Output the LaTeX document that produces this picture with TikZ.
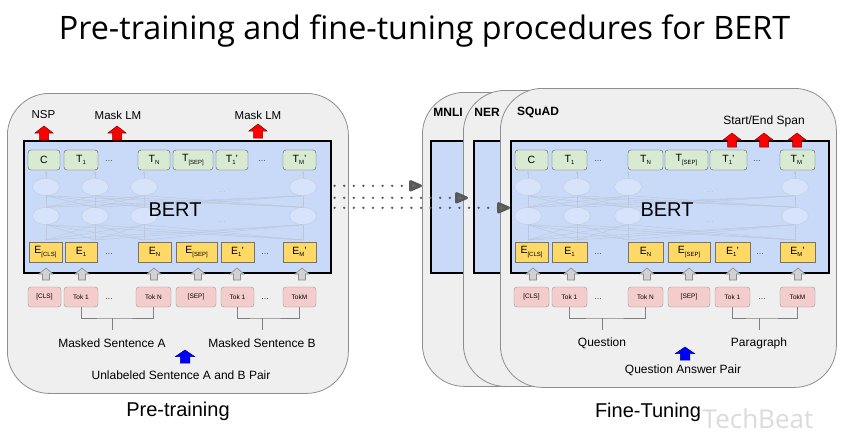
\documentclass[tikz,border=0pt]{standalone}
\usepackage{fontspec}
\setmainfont{Liberation Sans}
\newfontfamily\titlefont{Open Sans}
\usepackage{tikz}
\usetikzlibrary{arrows.meta,calc,shapes.geometric}
\definecolor{panelgray}{HTML}{EFEFEF}
\definecolor{panelline}{HTML}{8E8E8E}
\definecolor{bertblue}{HTML}{C9DAF8}
\definecolor{tgreen}{HTML}{D9EAD3}
\definecolor{eyellow}{HTML}{FFD966}
\definecolor{tokpink}{HTML}{F4CCCC}
\definecolor{netline}{HTML}{A7B5CC}
\newcommand\px[1]{\fontsize{#1}{#1}\selectfont}
\newcommand\tsub[1]{\raisebox{-2.2pt}{\px{6}#1}}
\tikzset{blockup/.pic={\path[pic actions] (-0.5,0) -- (-0.5,-0.5) -- (-1,-0.5) -- (0,-1) -- (1,-0.5) -- (0.5,-0.5) -- (0.5,0) -- cycle;}}

\begin{document}
\begin{tikzpicture}[x=1pt,y=-1pt,
  panel/.style={draw=panelline,fill=panelgray,rounded corners=42pt,line width=0.8pt,anchor=north west},
  core/.style={draw=black,fill=bertblue,line width=1.6pt,anchor=north west,minimum height=132pt},
  tbox/.style={draw=black!65,fill=tgreen,rounded corners=3pt,minimum height=20pt,inner sep=0pt,font=\px{10.5}},
  ebox/.style={draw=black!55,fill=eyellow,minimum height=20pt,inner sep=0pt,font=\px{10.5}},
  tokbox/.style={draw=black!40,fill=tokpink,rounded corners=3pt,minimum height=20pt,inner sep=0pt,font=\px{6.5}},
  dots/.style={font=\px{9},text=black!70},
  cell/.style={ellipse,draw=netline!70,fill=bertblue!75!white,minimum width=27pt,minimum height=17pt,inner sep=0pt},
  net/.style={draw=netline!75,line width=0.45pt},
  faint/.style={font=\px{9},text=netline!80},
  lbl/.style={font=\px{12}},
  tasklbl/.style={font=\px{12}\bfseries},
  brk/.style={draw=black!50,line width=0.8pt},
  redarr/.style={fill=red,draw=red!50!black,line width=0.5pt,xscale=9,yscale=14},
  grayarr/.style={fill=black!18,draw=black!45,line width=0.6pt,xscale=7,yscale=12},
  bluearr/.style={fill=blue,draw=blue!50!black,line width=0.5pt,xscale=9.5,yscale=13},
  dotarr/.style={draw=black!65,line width=2.6pt,line cap=round,dash pattern=on 0pt off 9.6pt,-{Triangle[length=15pt,width=12pt,round=false,fill=black!60]}}
]
\fill[white] (0,0) rectangle (846,437);
\useasboundingbox (0,0) rectangle (846,437);

\node[font=\titlefont\px{32.3},anchor=base] (title) at (424.5,39) {Pre-training and fine-tuning procedures for BERT};

% pre-training side
\node[panel,minimum width=341pt,minimum height=300pt] (pre) at (7,93) {};
\node[core,minimum width=307pt] (bertL) at (23,140) {};

\foreach \x [count=\i] in {46,95,144,303} {
  \node[cell] (lu\i) at (\x,187) {};
  \node[cell] (ld\i) at (\x,216) {};
  \coordinate (lin\i) at (\x,240);
  \coordinate (lout\i) at (\x,171);
}
\foreach \i in {1,...,4} {
  \draw[net,-{Stealth[length=3pt,width=2.5pt]}] (lu\i) -- (lout\i);
  \foreach \j in {1,...,4} {
    \draw[net] (ld\i.north) -- (lu\j.south);
    \draw[net] (lin\i) -- (ld\j.south);
  }
}
\node[faint] (ldotsu) at (222,192) {...};
\node[faint] (ldotsd) at (222,222) {...};
\node[font=\px{20}] (bertLtxt) at (175,210) {BERT};

\foreach \n/\x/\w/\t in {c/44/32/C, 1/81/34/{T\tsub{1}}, n/154/32/{T\tsub{N}}, sep/193/40/{T\tsub{[SEP]}}, b1/232/32/{T\tsub{1}'}, m/299.5/33/{T\tsub{M}'}}
  \node[tbox,minimum width=\w pt] (lt\n) at (\x,160) {\t};
\foreach \n/\x/\w/\t in {cls/45.5/33/{E\tsub{[CLS]}}, 1/81/32/{E\tsub{1}}, n/154.5/33/{E\tsub{N}}, sep/196.5/41/{E\tsub{[SEP]}}, b1/237.5/33/{E\tsub{1}'}, m/299.5/33/{E\tsub{M}'}}
  \node[ebox,minimum width=\w pt] (le\n) at (\x,252) {\t};
\foreach \n/\x/\w/\t in {cls/44.5/33/{[CLS]}, 1/81/34/{Tok 1}, n/153.5/35/{Tok N}, sep/196/40/{[SEP]}, b1/237.5/33/{Tok 1}, m/299.5/33/{TokM}}
  \node[tokbox,minimum width=\w pt] (lk\n) at (\x,297) {\t};
\node[dots] (ltd1) at (109,161) {...};
\node[dots] (ltd2) at (262,161) {...};
\node[dots] (led1) at (109,254) {...};
\node[dots] (led2) at (265,254) {...};
\node[dots] (lkd1) at (109,299) {...};
\node[dots] (lkd2) at (265,299) {...};

\foreach \x in {46,82,154,198,237,302}
  \pic[grayarr] at (\x,280) {blockup};

\coordinate (lbrA) at (112,318);
\coordinate (lbrAend) at (112,330);
\coordinate (lbrB) at (262,318);
\coordinate (lbrBend) at (262,330);
\draw[brk] (lk1.south) |- (lbrA) -| (lkn.south);
\draw[brk] (lbrA) -- (lbrAend);
\draw[brk] (lkb1.south) |- (lbrB) -| (lkm.south);
\draw[brk] (lbrB) -- (lbrBend);

\node[lbl] (maskA) at (112,343) {Masked Sentence A};
\node[lbl] (maskB) at (262,343) {Masked Sentence B};
\pic[bluearr] at (185,363) {blockup};
\node[lbl] (pairL) at (181,375) {Unlabeled Sentence A and B Pair};

\pic[redarr] at (44,140) {blockup};
\pic[redarr] at (117,140) {blockup};
\pic[redarr] at (258,138) {blockup};
\node[font=\px{11.5}] (nsp) at (43.5,115) {NSP};
\node[font=\px{11.5}] (mlm1) at (118,115) {Mask LM};
\node[font=\px{11.5}] (mlm2) at (258,115) {Mask LM};

\node[font=\px{20}] (preLbl) at (178,411) {Pre-training};

% fine-tuning side
\node[panel,minimum width=368pt,minimum height=294pt] (mnli) at (422,92) {};
\node[core,minimum width=260pt] (mnliIn) at (430,140) {};
\node[tasklbl] (mnliLbl) at (448,112) {MNLI};
\node[panel,minimum width=347pt,minimum height=296pt] (ner) at (463,90) {};
\node[core,minimum width=250pt] (nerIn) at (473,140) {};
\node[tasklbl] (nerLbl) at (487,112) {NER};
\node[panel,minimum width=336pt,minimum height=299pt] (squad) at (500,88) {};
\node[core,minimum width=318pt] (squadIn) at (510,140) {};
\node[tasklbl] (squadLbl) at (538,112) {SQuAD};

\foreach \x [count=\i] in {528,577,628,795} {
  \node[cell] (ru\i) at (\x,187) {};
  \node[cell] (rd\i) at (\x,216) {};
  \coordinate (rin\i) at (\x,240);
  \coordinate (rout\i) at (\x,171);
}
\foreach \i in {1,...,4} {
  \draw[net,-{Stealth[length=3pt,width=2.5pt]}] (ru\i) -- (rout\i);
  \foreach \j in {1,...,4} {
    \draw[net] (rd\i.north) -- (ru\j.south);
    \draw[net] (rin\i) -- (rd\j.south);
  }
}
\node[faint] (rdotsu) at (710,192) {...};
\node[faint] (rdotsd) at (710,222) {...};
\node[font=\px{20}] (bertRtxt) at (667,210) {BERT};

\foreach \n/\x/\w/\t in {c/531.5/33/C, 1/569.5/35/{T\tsub{1}}, n/645.5/35/{T\tsub{N}}, sep/686.5/43/{T\tsub{[SEP]}}, b1/728.5/37/{T\tsub{1}'}, m/797.5/35/{T\tsub{M}'}}
  \node[tbox,minimum width=\w pt] (rt\n) at (\x,160) {\t};
\foreach \n/\x/\w/\t in {cls/531.5/33/{E\tsub{[CLS]}}, 1/569.5/35/{E\tsub{1}}, n/645.5/35/{E\tsub{N}}, sep/689/42/{E\tsub{[SEP]}}, b1/732.5/35/{E\tsub{1}'}, m/797.5/35/{E\tsub{M}'}}
  \node[ebox,minimum width=\w pt] (re\n) at (\x,252) {\t};
\foreach \n/\x/\w/\t in {cls/531.5/35/{[CLS]}, 1/569.5/35/{Tok 1}, n/645.5/35/{Tok N}, sep/689/42/{[SEP]}, b1/732.5/35/{Tok 1}, m/797.5/35/{TokM}}
  \node[tokbox,minimum width=\w pt] (rk\n) at (\x,297) {\t};
\node[dots] (rtd1) at (598,161) {...};
\node[dots] (rtd2) at (757,161) {...};
\node[dots] (red1) at (598,254) {...};
\node[dots] (red2) at (760,254) {...};
\node[dots] (rkd1) at (598,299) {...};
\node[dots] (rkd2) at (762,299) {...};

\foreach \x in {533,571,647,689,733,798}
  \pic[grayarr] at (\x,280) {blockup};

\coordinate (rbrA) at (602,318);
\coordinate (rbrAend) at (602,330);
\coordinate (rbrB) at (759,318);
\coordinate (rbrBend) at (759,330);
\draw[brk] (rk1.south) |- (rbrA) -| (rkn.south);
\draw[brk] (rbrA) -- (rbrAend);
\draw[brk] (rkb1.south) |- (rbrB) -| (rkm.south);
\draw[brk] (rbrB) -- (rbrBend);

\node[lbl] (question) at (602,343) {Question};
\node[lbl] (paragraph) at (759,343) {Paragraph};
\pic[bluearr] at (685,360) {blockup};
\node[lbl] (pairR) at (683,370) {Question Answer Pair};

\pic[redarr] at (732,147) {blockup};
\pic[redarr] at (764,147) {blockup};
\pic[redarr] at (797,147) {blockup};
\node[lbl] (span) at (764,121) {Start/End Span};

\node[font=\px{20}] (fineLbl) at (648,412) {Fine-Tuning};
\node[font=\titlefont\px{26},text=black!14,anchor=base] (mark) at (758,428) {TechBeat};

% transfer arrows
\coordinate (go1) at ($(bertL.east)+(3,-21)$);
\coordinate (go2) at ($(bertL.east)+(3,-9)$);
\coordinate (go3) at ($(bertL.east)+(3,1)$);
\draw[dotarr] (go1) -- (go1 -| mnli.west);
\draw[dotarr,shorten >=5pt] (go2) -- (go2 -| nerIn.west);
\draw[dotarr] (go3) -- (go3 -| squadIn.west);
\end{tikzpicture}
\end{document}
